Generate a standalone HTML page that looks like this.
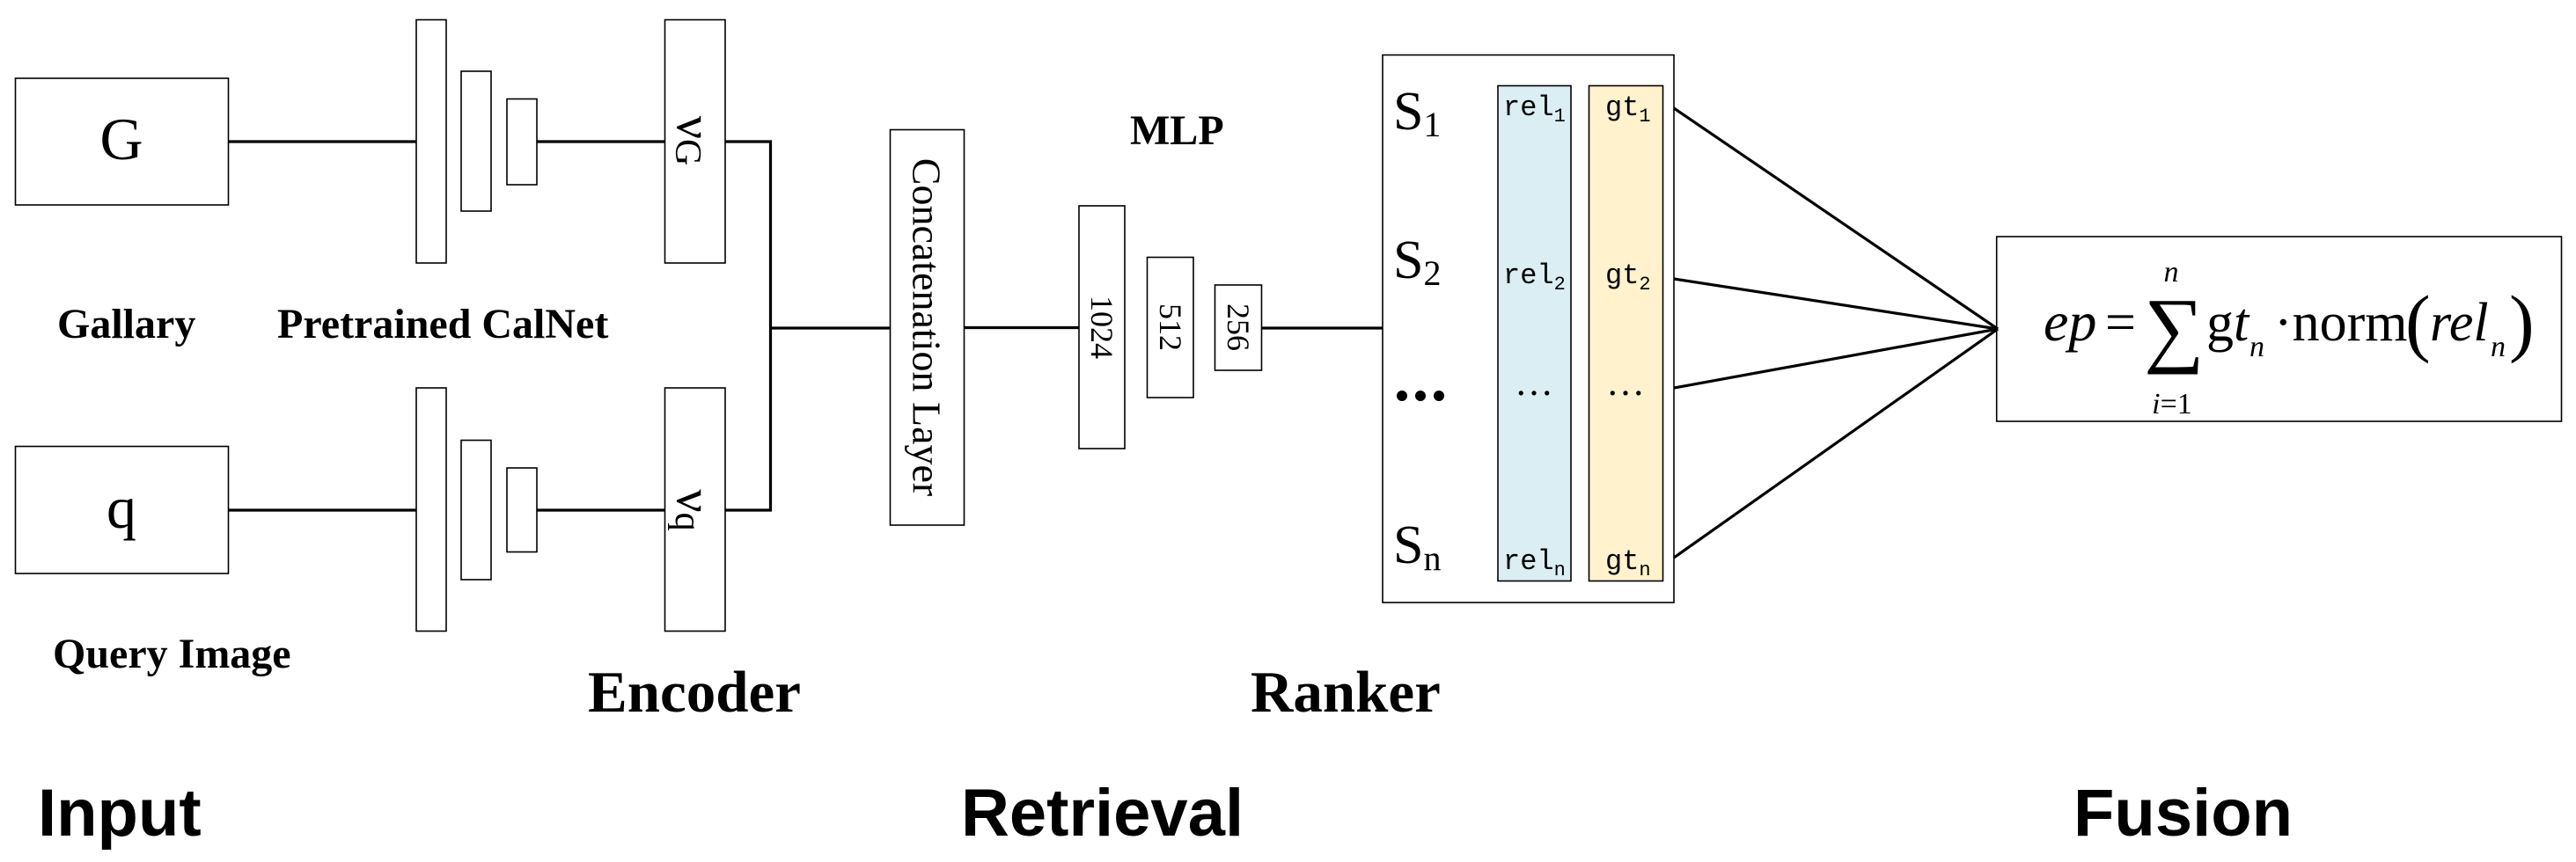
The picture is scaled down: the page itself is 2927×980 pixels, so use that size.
<!DOCTYPE html>
<html><head><meta charset="utf-8"><style>html,body{margin:0;padding:0;background:#fff}svg{display:block}</style></head><body>
<svg width="2927" height="980" viewBox="0 0 2927 980" xmlns="http://www.w3.org/2000/svg">
<g fill="#fff" stroke="#000" stroke-width="1.6">
<rect x="17.5" y="89" width="242" height="144"/>
<rect x="17.5" y="507.5" width="242" height="144.5"/>
<rect x="473" y="22.5" width="34" height="276.5"/>
<rect x="524" y="81" width="34" height="159"/>
<rect x="576" y="112.5" width="34" height="97.5"/>
<rect x="473" y="441" width="34" height="276.5"/>
<rect x="524" y="500.5" width="34" height="158.5"/>
<rect x="576" y="532" width="34" height="95.5"/>
<rect x="755.5" y="22.5" width="68.5" height="276.5"/>
<rect x="755.5" y="441" width="68.5" height="276.5"/>
<rect x="1011.5" y="147.5" width="84" height="449.5"/>
<rect x="1226" y="234" width="52" height="276"/>
<rect x="1303.5" y="292.5" width="52.5" height="159.5"/>
<rect x="1380.5" y="324" width="53" height="97"/>
<rect x="1571" y="62.5" width="331" height="622.5"/>
<rect x="1702" y="97.5" width="83" height="563" fill="#dbeef4"/>
<rect x="1805.5" y="97.5" width="84" height="563" fill="#fff2cc"/>
<rect x="2268.7" y="269" width="641.8" height="210"/>
</g>
<g stroke="#000" stroke-width="3.2" fill="none">
<line x1="259.5" y1="161" x2="473" y2="161"/>
<line x1="610" y1="161" x2="755.5" y2="161"/>
<line x1="259.5" y1="580" x2="473" y2="580"/>
<line x1="610" y1="580" x2="755.5" y2="580"/>
<polyline points="824,161 875.5,161 875.5,580 824,580"/>
<line x1="875.5" y1="373" x2="1011.5" y2="373"/>
<line x1="1095.5" y1="372.5" x2="1226" y2="372.5"/>
<line x1="1433.5" y1="373" x2="1571" y2="373"/>
<line x1="1902" y1="123" x2="2270" y2="374"/>
<line x1="1902" y1="317" x2="2270" y2="374"/>
<line x1="1902" y1="441" x2="2270" y2="374"/>
<line x1="1902" y1="634" x2="2270" y2="374"/>
</g>
<g font-family="Liberation Serif, serif" fill="#000">
<text x="138" y="181" font-size="68" text-anchor="middle">G</text>
<text x="138" y="600" font-size="68" text-anchor="middle">q</text>
<g font-weight="bold" font-size="48">
<text x="65" y="384">Gallary</text>
<text x="315" y="384">Pretrained CalNet</text>
<text x="60" y="759">Query Image</text>
<text x="1284" y="164">MLP</text>
</g>
<text x="668" y="809" font-size="67" font-weight="bold">Encoder</text>
<text x="1421" y="809" font-size="67" font-weight="bold">Ranker</text>
<text transform="translate(1053,372) rotate(90)" font-size="46" text-anchor="middle" dominant-baseline="central">Concatenation Layer</text>
<text transform="translate(789,160) rotate(90)" font-size="58" text-anchor="middle" dominant-baseline="central">ν<tspan font-size="42" dy="8">G</tspan></text>
<text transform="translate(789,580) rotate(90)" font-size="58" text-anchor="middle" dominant-baseline="central">ν<tspan font-size="42" dy="8">q</tspan></text>
<text transform="translate(1252,372) rotate(90)" font-size="36" text-anchor="middle" dominant-baseline="central">1024</text>
<text transform="translate(1330,372) rotate(90)" font-size="36" text-anchor="middle" dominant-baseline="central">512</text>
<text transform="translate(1407,372) rotate(90)" font-size="36" text-anchor="middle" dominant-baseline="central">256</text>
<g font-size="62">
<text x="1583" y="147">S<tspan font-size="40" dy="8">1</tspan></text>
<text x="1583" y="316">S<tspan font-size="40" dy="8">2</tspan></text>
<text x="1583" y="640">S<tspan font-size="40" dy="8">n</tspan></text>
</g>
<g>
<circle cx="1593" cy="450" r="6"/><circle cx="1614" cy="450" r="6"/><circle cx="1635" cy="450" r="6"/>
</g>
</g>
<g font-family="Liberation Mono, monospace" font-size="32" fill="#000">
<text x="1708" y="131">rel<tspan font-size="22" dy="7">1</tspan></text>
<text x="1708" y="322">rel<tspan font-size="22" dy="7">2</tspan></text>
<text x="1708" y="647">rel<tspan font-size="22" dy="7">n</tspan></text>
<text x="1743" y="449" text-anchor="middle" font-family="Liberation Serif, serif" font-size="44">…</text>
<text x="1824" y="131">gt<tspan font-size="22" dy="7">1</tspan></text>
<text x="1824" y="322">gt<tspan font-size="22" dy="7">2</tspan></text>
<text x="1824" y="647">gt<tspan font-size="22" dy="7">n</tspan></text>
<text x="1847" y="449" text-anchor="middle" font-family="Liberation Serif, serif" font-size="44">…</text>
</g>
<g font-family="Liberation Serif, serif" fill="#000">
<text x="2322" y="387" font-size="64" font-style="italic">ep</text>
<text x="2392" y="387" font-size="62">=</text>
<text x="2436" y="405" font-size="96">∑</text>
<text x="2467" y="320" font-size="34" font-style="italic" text-anchor="middle">n</text>
<text x="2468" y="470" font-size="34" text-anchor="middle"><tspan font-style="italic">i</tspan>=1</text>
<text x="2507" y="387" font-size="62">g<tspan font-style="italic">t</tspan></text>
<text x="2556" y="405" font-size="34" font-style="italic">n</text>
<text x="2584" y="387" font-size="62">·norm</text>
<text x="2733" y="395" font-size="86">(</text>
<text x="2761" y="387" font-size="62" font-style="italic">rel</text>
<text x="2830" y="405" font-size="34" font-style="italic">n</text>
<text x="2851" y="395" font-size="86">)</text>
</g>
<g font-family="Liberation Sans, sans-serif" font-weight="bold" font-size="76" fill="#000">
<text x="43" y="950">Input</text>
<text x="1092" y="950">Retrieval</text>
<text x="2356" y="950">Fusion</text>
</g>
</svg>
</body></html>
